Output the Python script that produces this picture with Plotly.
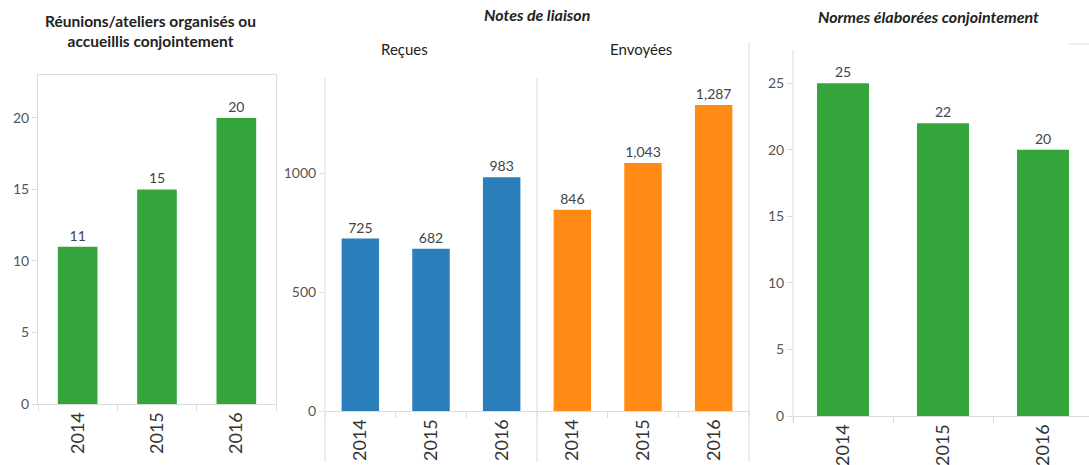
import plotly.graph_objects as go

# ---- data ----
years = ["2014", "2015", "2016"]
reunions = [11, 15, 20]
notes_recues = [725, 682, 983]
notes_envoyees = [846, 1043, 1287]
normes = [25, 22, 20]

title_reunions = "Réunions/ateliers organisés ou<br>accueillis conjointement"
title_notes = "<i>Notes de liaison</i>"
sub_recues = "Reçues"
sub_envoyees = "Envoyées"
title_normes = "<i>Normes élaborées conjointement</i>"

# ---- style ----
W, H = 1089, 465
GREEN = "#33A53A"
BLUE = "#2A7FBA"
ORANGE = "#FF8A16"
LINE = "#DCDCDC"
FONT = "Lato, 'Open Sans', sans-serif"
TXT = "#444444"


def px(x):
    return x / W


def py(y):
    return (H - y) / H


fig = go.Figure()

panels = [
    (reunions, GREEN, "x", "y", 0.5),
    (notes_recues, BLUE, "x2", "y2", 0.53),
    (notes_envoyees, ORANGE, "x3", "y3", 0.53),
    (normes, GREEN, "x4", "y4", 0.52),
]
for vals, col, xa, ya, w in panels:
    fig.add_trace(go.Bar(
        x=years, y=vals, xaxis=xa, yaxis=ya, width=w,
        marker=dict(color=col, line=dict(width=0)),
        texttemplate="%{y:,}", textposition="outside",
        textfont=dict(family=FONT, size=14, color=TXT),
        cliponaxis=False, showlegend=False, hoverinfo="skip",
    ))

xcommon = dict(type="category", tickangle=-90, ticks="outside", ticklen=6,
               tickcolor=LINE, tickson="boundaries", showgrid=False,
               tickfont=dict(family=FONT, size=18, color="#333333"),
               showline=True, linecolor=LINE, linewidth=1, zeroline=False,
               automargin=False)
ycommon = dict(showgrid=False, zeroline=False, ticks="outside", ticklen=5,
               tickcolor=LINE, tickfont=dict(family=FONT, size=14, color="#555555"),
               tickformat="d", automargin=False)

fig.update_layout(
    width=W, height=H, margin=dict(l=0, r=0, t=0, b=0, autoexpand=False),
    paper_bgcolor="white", plot_bgcolor="white",
    bargap=0.5, hovermode=False,
    font=dict(family=FONT),
    xaxis=dict(xcommon, domain=[px(38), px(276)], anchor="y", mirror=True),
    yaxis=dict(ycommon, domain=[py(404), py(75)], range=[0, 23.0], dtick=5,
               anchor="x", showline=True, linecolor=LINE, mirror=True),
    xaxis2=dict(xcommon, domain=[px(325), px(537)], anchor="y2"),
    yaxis2=dict(ycommon, domain=[py(411), py(78)], range=[0, 1400], dtick=500,
                anchor="x2", showline=False),
    xaxis3=dict(xcommon, domain=[px(537), px(749)], anchor="y3"),
    yaxis3=dict(ycommon, domain=[py(411), py(78)], range=[0, 1400], dtick=500,
                anchor="x3", showticklabels=False, ticks="", showline=False),
    xaxis4=dict(xcommon, domain=[px(793), 1.0], anchor="y4", range=[-0.5, 2.46]),
    yaxis4=dict(ycommon, domain=[py(416), py(50)], range=[0, 27.5], dtick=5,
                anchor="x4", showline=False),
)

shapes = [
    # Notes de liaison panel verticals
    dict(x0=px(325), x1=px(325), y0=py(78), y1=py(462)),
    dict(x0=px(537), x1=px(537), y0=py(78), y1=py(462)),
    dict(x0=px(749), x1=px(749), y0=py(42), y1=py(462)),
    # Normes panel axis line
    dict(x0=px(793), x1=px(793), y0=py(50), y1=py(422)),
    # small top-right segment
    dict(x0=px(1068), x1=1.0, y0=py(44), y1=py(44)),
]
for s in shapes:
    fig.add_shape(type="line", xref="paper", yref="paper",
                  line=dict(color=LINE, width=1), **s)

ann = [
    (title_reunions, 150, 31, 15.5, True),
    (title_notes, 537, 15, 16, True),
    (sub_recues, 404, 49, 15, False),
    (sub_envoyees, 641, 49, 15, False),
    (title_normes, 928, 16, 16, True),
]
for text, x, y, size, bold in ann:
    fig.add_annotation(
        x=px(x), y=py(y), xref="paper", yref="paper", showarrow=False,
        text=f"<b>{text}</b>" if bold else text,
        font=dict(family=FONT, size=size, color="#222222"),
        xanchor="center", yanchor="middle", align="center",
    )

fig.write_html(
    "out.html",
    config={"displayModeBar": False, "staticPlot": True},
    post_script="document.body.style.margin='0';document.body.style.padding='0';"
                "document.documentElement.style.overflow='hidden';",
)
